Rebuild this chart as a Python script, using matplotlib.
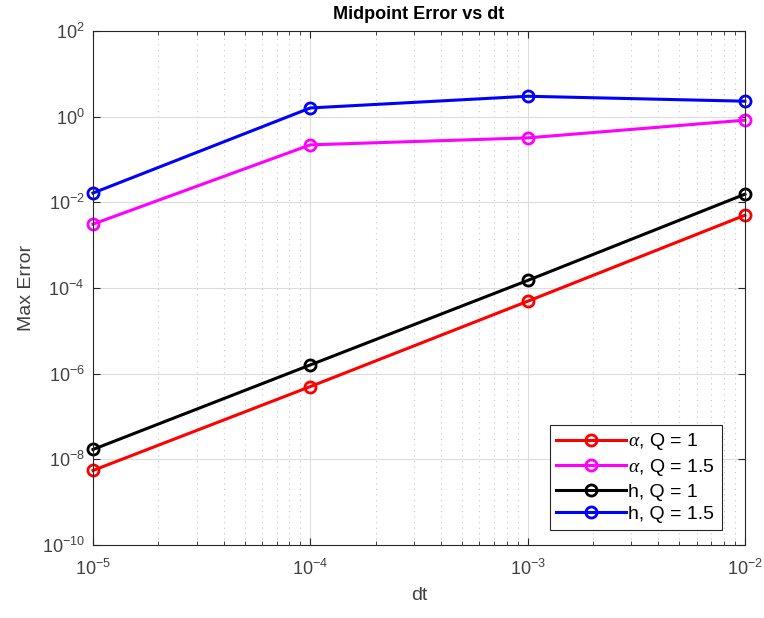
import matplotlib
matplotlib.use("Agg")
import matplotlib.pyplot as plt
from matplotlib.ticker import LogLocator, NullFormatter

plt.rcParams['font.family'] = ['Liberation Sans', 'DejaVu Sans']
plt.rcParams['mathtext.fontset'] = 'custom'
plt.rcParams['mathtext.rm'] = 'Liberation Sans'
plt.rcParams['mathtext.it'] = 'Liberation Serif:italic'
plt.rcParams['axes.unicode_minus'] = False

dt = [1e-5, 1e-4, 1e-3, 1e-2]
alpha_q1 = [5.5e-9, 5.0e-7, 4.9e-5, 5.0e-3]
alpha_q15 = [3.1e-3, 0.22, 0.32, 0.83]
h_q1 = [1.7e-8, 1.6e-6, 1.5e-4, 1.55e-2]
h_q15 = [1.65e-2, 1.6, 3.0, 2.3]

labels = [r'$\alpha$, Q = 1', r'$\alpha$, Q = 1.5', 'h, Q = 1', 'h, Q = 1.5']
colors = ['#ff0000', '#ff00ff', '#000000', '#0000ff']
series = [alpha_q1, alpha_q15, h_q1, h_q15]

fig = plt.figure(figsize=(7.64, 6.18), dpi=100)
ax = fig.add_axes([0.1217, 0.1181, 0.8533, 0.8317])

for s, c, l in zip(series, colors, labels):
    ax.loglog(dt, s, '-o', color=c, label=l, linewidth=2.2, markersize=8,
              markerfacecolor='none', markeredgewidth=2.0, clip_on=False)

ax.set_xlim(1e-5, 1e-2)
ax.set_ylim(1e-10, 1e2)
ax.set_xticks([1e-5, 1e-4, 1e-3, 1e-2])
ax.set_yticks([1e-10, 1e-8, 1e-6, 1e-4, 1e-2, 1e0, 1e2])
ax.xaxis.set_minor_locator(LogLocator(base=10, subs=range(2, 10), numticks=20))
ax.yaxis.set_minor_locator(LogLocator(base=10, subs=range(1, 10), numticks=30))
ax.yaxis.set_minor_formatter(NullFormatter())
ax.xaxis.set_minor_formatter(NullFormatter())

ax.grid(True, which='major', color='#dcdcdc', linewidth=0.8)
ax.grid(True, which='minor', axis='x', color='#c8c8c8', linestyle=(0, (1, 4)), linewidth=0.8)
ax.set_axisbelow(True)
ax.tick_params(which='both', direction='in', top=True, right=True, colors='#262626',
               labelcolor='#404040', labelsize=13)
ax.tick_params(which='major', length=5)
ax.tick_params(axis='x', which='major', pad=10)
ax.tick_params(axis='y', which='major', pad=6)
ax.tick_params(which='minor', length=3)
ax.tick_params(axis='y', which='minor', length=0)
for sp in ax.spines.values():
    sp.set_color('#262626')
    sp.set_linewidth(0.8)

ax.set_title('Midpoint Error vs dt', fontsize=13, fontweight='bold', pad=9)
ax.set_xlabel('dt', fontsize=14, color='#404040', labelpad=6)
ax.set_ylabel('Max Error', fontsize=14, color='#404040', labelpad=5)

leg = ax.legend(loc='lower right', bbox_to_anchor=(0.9647, 0.0292), borderaxespad=0,
                fontsize=14, fancybox=False, framealpha=1,
                edgecolor='#262626', handlelength=3.6, borderpad=0.35,
                handletextpad=0.1, labelspacing=0.25)
leg.get_frame().set_linewidth(0.8)

fig.savefig('out.png', dpi=100)
